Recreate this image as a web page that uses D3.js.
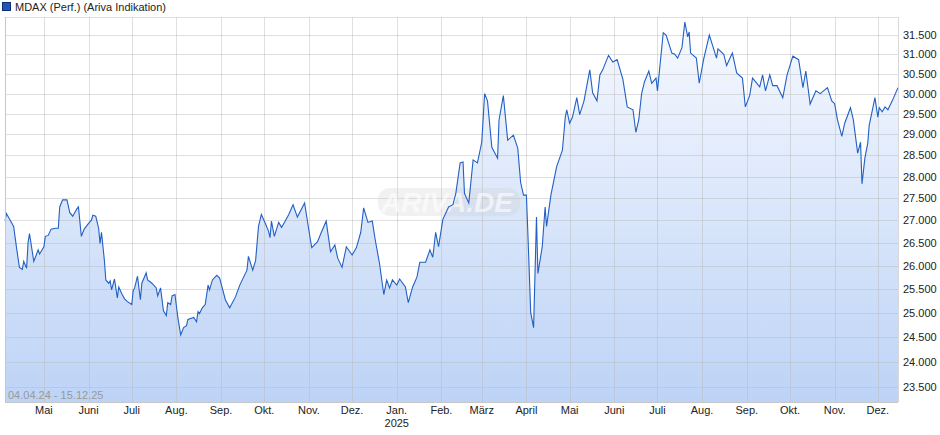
<!DOCTYPE html>
<html><head><meta charset="utf-8">
<script src="https://cdn.jsdelivr.net/npm/d3@7"></script>
<style>body{margin:0;background:#fff}svg{font-family:"Liberation Sans",Arial,sans-serif}</style>
</head><body><svg id="c" width="940" height="435"></svg>
<script>
const startDate = "2024-04-04";
const dayOffsets = [0,1,6,8,10,12,13,15,16,17,20,23,24,27,28,30,32,35,37,38,40,43,45,47,50,51,53,55,58,60,61,63,65,66,67,69,70,72,73,74,76,78,79,81,83,85,88,89,90,92,94,95,98,99,102,105,106,108,110,112,113,115,116,118,120,122,124,126,127,131,133,134,135,137,139,141,142,144,147,149,153,156,160,163,168,169,172,174,176,178,181,183,184,185,187,190,192,194,197,200,203,208,212,213,217,219,223,226,229,231,234,237,241,244,247,249,252,255,257,260,263,265,267,269,272,274,278,280,283,286,288,292,295,297,299,301,304,308,311,313,316,318,319,322,325,328,331,333,335,338,342,343,346,349,353,356,358,360,362,363,365,367,369,370,373,375,376,379,383,387,389,390,392,394,397,399,402,406,408,411,413,415,419,422,425,429,432,436,438,440,442,444,447,449,452,453,457,459,463,465,467,470,472,474,475,476,480,482,485,489,492,494,495,499,501,505,508,512,514,517,519,524,526,528,531,533,536,540,543,547,551,554,556,559,563,566,571,574,576,578,581,583,587,589,592,594,595,597,599,600,604,606,607,609,611,613,616,620];
const values = [26980,27150,26860,26390,25960,25920,26090,25940,26500,26700,26090,26340,26250,26410,26640,26660,26800,26820,26820,27300,27460,27460,27170,27090,27260,27300,26640,26800,26930,27000,27110,27090,26820,26480,26730,26110,25690,25620,25670,25480,25710,25310,25540,25400,25290,25230,25170,25460,25520,25770,25270,25620,25840,25690,25620,25520,25350,25520,25040,24940,25210,25170,25350,25380,24900,24540,24690,24730,24860,24900,24810,25020,24980,25100,25170,25580,25480,25690,25790,25730,25270,25100,25330,25580,25900,26200,25900,26110,26860,27130,26910,26750,26610,26980,26640,26950,26840,26950,27130,27350,27070,27390,26570,26390,26520,26680,26980,26300,26450,26160,25960,26410,26230,26390,26730,27280,26950,26980,26570,26050,25380,25690,25520,25690,25580,25710,25540,25210,25540,25750,26070,26070,26340,26180,26730,26410,27020,27300,27350,27610,28320,28340,27610,27390,28390,28320,28810,30000,29820,28690,28430,29350,29950,28860,28980,28670,27860,27570,27570,26730,25000,24690,27070,25830,26410,27300,26860,27570,28230,28620,29420,29600,29270,29420,29900,29480,29820,30600,30020,29820,30470,30600,30970,30800,30860,30360,29670,29600,29050,29350,30000,30300,30570,30260,30390,30070,31560,31500,31030,31000,30900,31170,31840,31450,31580,31030,30900,30260,30860,31500,31140,30900,31140,31000,30710,31030,30520,30390,29670,29950,30390,30170,30470,30070,30470,30200,30200,29900,30470,30950,30860,30150,30570,29740,30070,30000,30150,29820,29750,29350,28950,29270,29650,29350,28550,28810,27830,28430,28790,29220,29900,29420,29650,29550,29670,29600,29820,30150];
const yTicks = [23500,24000,24500,25000,25500,26000,26500,27000,27500,28000,28500,29000,29500,30000,30500,31000,31500];
const monthLabels = ["Mai","Juni","Juli","Aug.","Sep.","Okt.","Nov.","Dez.","Jan.","Feb.","März","April","Mai","Juni","Juli","Aug.","Sep.","Okt.","Nov.","Dez."];
const legendText = "MDAX (Perf.) (Ariva Indikation)";
const rangeText = "04.04.24 - 15.12.25";

const svg = d3.select("#c");
const L=5,R=898,T=17,B=402;
const parse = d3.timeParse("%Y-%m-%d");
const d0 = parse(startDate);
const data = values.map((v,i)=>({d:d3.timeDay.offset(d0,dayOffsets[i]),v}));
const x = d3.scaleTime().domain([d0, parse("2025-12-15")]).range([L,R]);
const y = d3.scaleLog().domain([23208,31976]).range([B,T]);

const defs = svg.append("defs");
const g = defs.append("linearGradient").attr("id","fg").attr("gradientUnits","userSpaceOnUse")
  .attr("x1",0).attr("x2",0).attr("y1",y(d3.max(values))).attr("y2",B);
g.append("stop").attr("offset","0%").attr("stop-color","#f6f9ff");
g.append("stop").attr("offset","100%").attr("stop-color","#bdd3f6");

svg.append("path").datum(data).attr("fill","url(#fg)")
  .attr("d",d3.area().x(d=>x(d.d)).y0(B).y1(d=>y(d.v)));

const gridC = "#b8b8b8", gridO = 0.45;
const months = d3.timeMonth.range(parse("2024-05-01"), parse("2025-12-15"));
svg.append("g").selectAll("line").data(months).join("line")
  .attr("x1",d=>Math.round(x(d))+0.5).attr("x2",d=>Math.round(x(d))+0.5).attr("y1",T).attr("y2",B)
  .attr("stroke",gridC).attr("stroke-opacity",gridO);
svg.append("g").selectAll("line").data(yTicks).join("line")
  .attr("x1",L).attr("x2",R).attr("y1",d=>Math.round(y(d))+0.5).attr("y2",d=>Math.round(y(d))+0.5)
  .attr("stroke",gridC).attr("stroke-opacity",gridO);
svg.append("line").attr("x1",L).attr("x2",R).attr("y1",T+0.5).attr("y2",T+0.5).attr("stroke",gridC).attr("stroke-opacity",gridO);

// watermark
svg.append("rect").attr("x",378).attr("y",188).attr("width",142).attr("height",28).attr("rx",12)
  .attr("fill","#d0d0d0").attr("fill-opacity",0.3);
svg.append("text").attr("x",447).attr("y",212).attr("text-anchor","middle").attr("font-size",28)
  .attr("font-style","italic").attr("font-weight","bold").attr("fill","#ffffff").attr("fill-opacity",0.6)
  .text("ARIVA.DE");

svg.append("path").datum(data).attr("fill","none").attr("stroke","#2260c4").attr("stroke-width",1.1)
  .attr("d",d3.line().x(d=>x(d.d)).y(d=>y(d.v)));

svg.append("line").attr("x1",L+0.5).attr("x2",L+0.5).attr("y1",T).attr("y2",B).attr("stroke","#c8c8c8");
svg.append("line").attr("x1",L).attr("x2",R).attr("y1",B+0.5).attr("y2",B+0.5).attr("stroke","#c8c8c8");
svg.append("line").attr("x1",R+0.5).attr("x2",R+0.5).attr("y1",T).attr("y2",B).attr("stroke","#d8d8d8");

svg.append("g").selectAll("text").data(yTicks).join("text")
  .attr("x",903).attr("y",d=>y(d)+4).attr("font-size",11).attr("fill","#222")
  .text(d=>d3.format(",")(d).replace(/,/g,"."));

svg.append("g").selectAll("text").data(months).join("text")
  .attr("x",d=>x(d)).attr("y",414).attr("text-anchor","middle").attr("font-size",11).attr("fill","#222")
  .text((d,i)=>monthLabels[i]);
svg.append("text").attr("x",x(parse("2025-01-01"))).attr("y",427).attr("text-anchor","middle")
  .attr("font-size",11).attr("fill","#222").text("2025");

svg.append("text").attr("x",8).attr("y",399).attr("font-size",11).attr("fill","#999").text(rangeText);

svg.append("rect").attr("x",2.5).attr("y",2.5).attr("width",8).attr("height",8).attr("fill","#1f56b8").attr("stroke","#0c2f75");
svg.append("text").attr("x",15).attr("y",11).attr("font-size",11).attr("fill","#222").text(legendText);
</script></body></html>
